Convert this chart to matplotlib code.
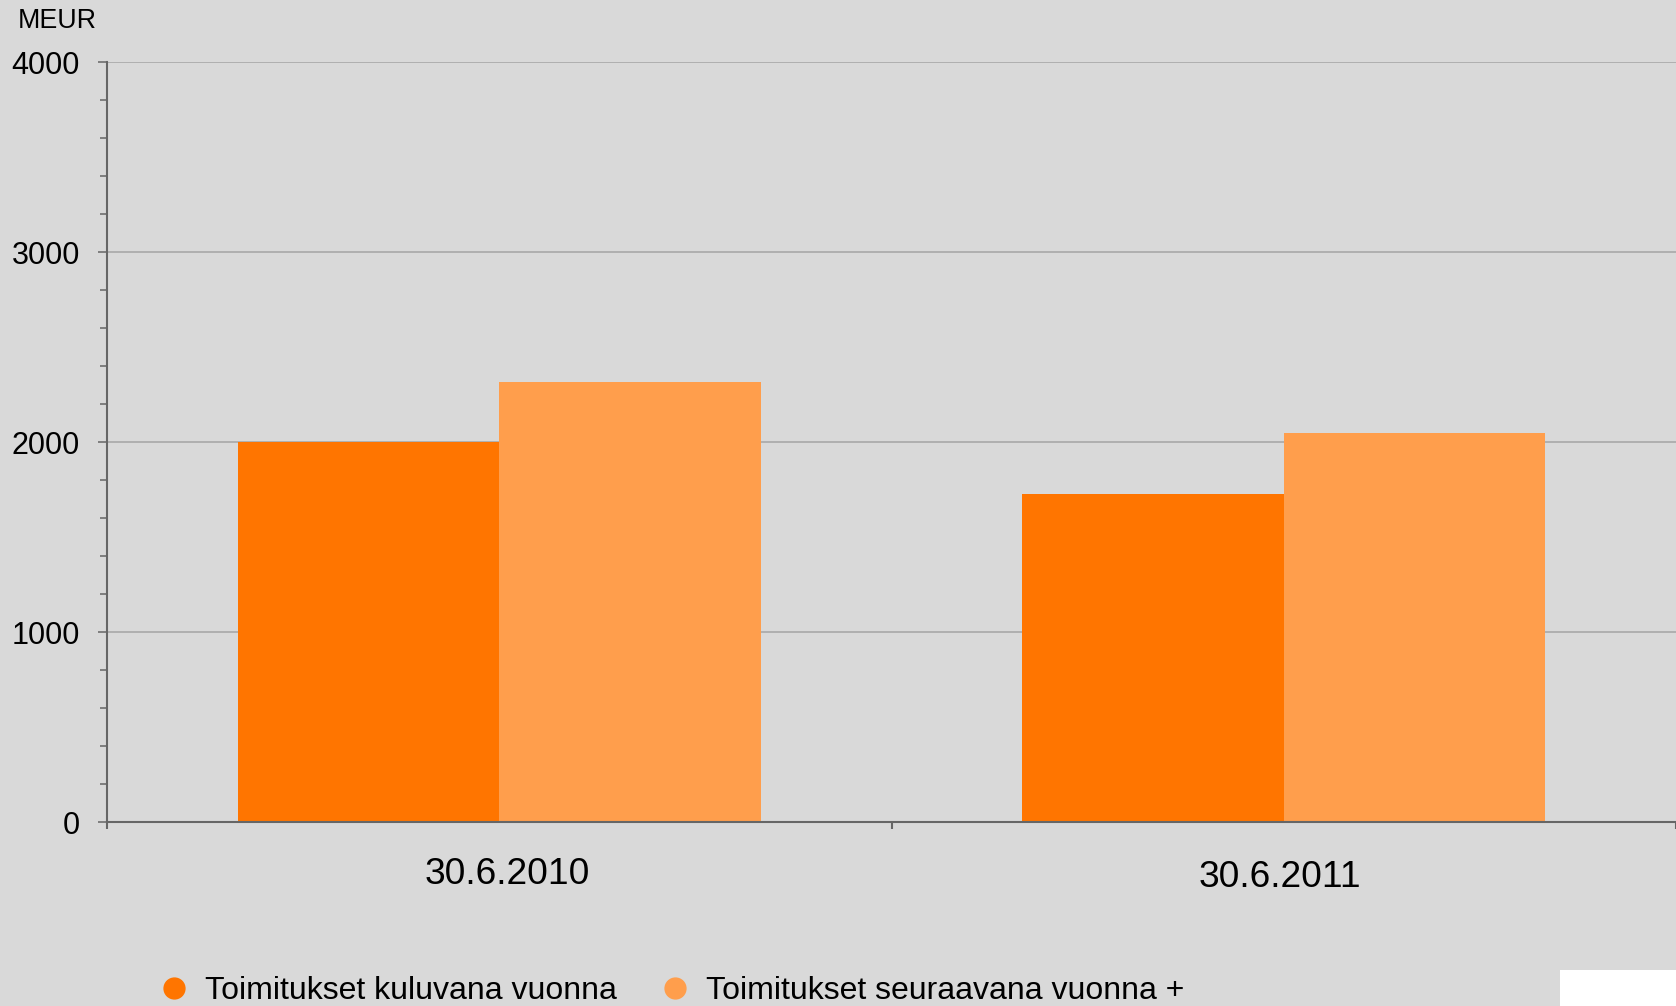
import matplotlib
matplotlib.use("Agg")
import matplotlib.pyplot as plt
from matplotlib.lines import Line2D
from matplotlib.patches import Rectangle
import numpy as np

# data
dates = ["30.6.2010", "30.6.2011"]
current_year = [2000, 1725]      # Toimitukset kuluvana vuonna
next_year = [2315, 2050]         # Toimitukset seuraavana vuonna +
series_names = ["Toimitukset kuluvana vuonna", "Toimitukset seuraavana vuonna +"]
y_ticks = [0, 1000, 2000, 3000, 4000]

bg = "#d9d9d9"
dark_orange = "#ff7500"
light_orange = "#ff9e4c"
axis_grey = "#666666"

plt.rcParams["font.family"] = ["Liberation Sans", "DejaVu Sans"]

fig = plt.figure(figsize=(16.76, 10.06), dpi=100, facecolor=bg)
ax = fig.add_axes([107 / 1676, 184 / 1006, 1 - 107 / 1676, (822 - 62) / 1006])
ax.set_facecolor(bg)

x = np.arange(len(dates))
w = 1 / 3
ax.bar(x - w / 2, current_year, width=w, color=dark_orange, zorder=3)
ax.bar(x + w / 2, next_year, width=w, color=light_orange, zorder=3)

ax.set_xlim(-0.5, len(dates) - 0.5)
ax.set_ylim(0, 4000)

# y axis
ax.set_yticks(y_ticks)
ax.set_yticks(np.arange(0, 4001, 200), minor=True)
ax.tick_params(axis="y", which="major", direction="out", length=6.5, width=1.1,
               color=axis_grey, labelsize=22, pad=13)
ax.tick_params(axis="y", which="minor", direction="out", length=5, width=1.1,
               color=axis_grey)
ax.yaxis.grid(True, which="major", color="#a8a8a8", linewidth=1.2, zorder=0)

# x axis: ticks at group boundaries, category labels under the groups
ax.set_xticks(np.arange(-0.5, len(dates)))
ax.set_xticklabels([])
ax.tick_params(axis="x", which="major", direction="out", length=5, width=1.5,
               color=axis_grey)
label_offsets = [(6, -38), (-3, -40)]   # small nudges, in points
for xi, lab, off in zip(x, dates, label_offsets):
    ax.annotate(lab, xy=(xi, 0), xycoords=("data", "axes fraction"),
                xytext=off, textcoords="offset points",
                ha="center", va="center", fontsize=26.7, annotation_clip=False)

for s in ["top", "right"]:
    ax.spines[s].set_visible(False)
for s in ["left", "bottom"]:
    ax.spines[s].set_color(axis_grey)
    ax.spines[s].set_linewidth(1.5)
    ax.spines[s].set_zorder(4)

fig.text(18 / 1676, 1 - 21 / 1006, "MEUR", fontsize=19.3, ha="left", va="center")

handles = [Line2D([], [], linestyle="none", marker="o", markersize=15,
                  markerfacecolor=c, markeredgecolor=c)
           for c in [dark_orange, light_orange]]
fig.legend(handles, series_names, loc="center left",
           bbox_to_anchor=(163 / 1676, 15 / 1006), ncol=2, frameon=False,
           fontsize=23, handlelength=0.69, handletextpad=0.63,
           columnspacing=1.47, borderpad=0, borderaxespad=0)

# white patch in the bottom right corner
fig.patches.append(Rectangle((1560 / 1676, 0), 116 / 1676, 36 / 1006,
                             transform=fig.transFigure, facecolor="white",
                             edgecolor="none"))

fig.savefig("out.png", dpi=100, facecolor=bg)
